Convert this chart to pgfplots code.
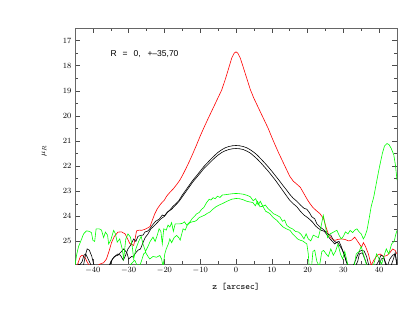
\documentclass[border=0pt]{standalone}
\usepackage{pgfplots}
\pgfplotsset{compat=1.18}
\usepackage{fontspec}
\newfontfamily\hfont{Liberation Sans}
\begin{document}
\begin{tikzpicture}
\useasboundingbox (-75pt,-52pt) rectangle (334pt,264pt);
\begin{axis}[
 at={(0,0)}, anchor=south west,
 scale only axis, width=322pt, height=236pt,
 xmin=-45, xmax=45, ymin=16.5, ymax=25.9, y dir=reverse,
 xtick={-40,-30,...,40}, minor x tick num=1,
 ytick={17,...,25}, minor y tick num=1,
 tick align=inside, major tick length=5pt, minor tick length=3pt,
 ticklabel style={font=\footnotesize},
 axis line style={black!60, line width=0.8pt},
 every tick/.style={black!70, line width=0.5pt},
 xlabel={z [arcsec]}, ylabel={$\mu_R$},
 xlabel style={font=\ttfamily\fontsize{9}{10}\selectfont, at={(axis description cs:0.5,-0.096)}, anchor=center},
 ylabel style={font=\footnotesize, at={(axis description cs:-0.096,0.48)}, anchor=center},
 clip=true,
]
\addplot[red, line width=0.6pt] table {
-45 26.3
-44.5 26.0
-44 25.8
-43.5 25.6
-43 25.55
-42.5 25.6
-42 25.7
-41.5 25.85
-41 25.95
-40 26.1
-39 26.0
-38 25.9
-37 25.85
-36.2 25.7
-35.5 25.4
-34.8 25.05
-34 24.8
-33 24.63
-32 24.62
-31 24.7
-30.3 24.9
-29.7 25.08
-28.6 25.16
-28.2 24.9
-27.8 24.58
-27 24.55
-26.4 24.56
-25.5 24.52
-24.5 24.45
-24 24.4
-23.5 24.2
-22.7 23.9
-22 23.7
-21 23.5
-20 23.35
-19.4 23.2
-18.5 23.05
-17.5 22.9
-16.5 22.72
-15.7 22.56
-15 22.38
-14 22.1
-13 21.8
-12 21.48
-11 21.15
-10 20.8
-9 20.48
-8 20.17
-7 19.87
-6 19.57
-5 19.27
-4 18.97
-3 18.55
-2 18.08
-1.2 17.7
-0.5 17.5
0 17.45
0.5 17.5
1.2 17.7
2 18.05
3 18.5
4 18.95
5 19.3
6 19.6
7 19.9
8 20.2
9 20.5
10 20.85
11 21.18
12 21.5
13 21.8
14 22.1
15 22.4
16 22.6
17 22.72
18 22.85
19 23.1
20 23.35
20.7 23.5
21.5 23.65
22.5 23.78
23.5 23.9
24.5 24.1
25.2 24.45
25.8 24.7
26.5 24.85
27.6 24.96
28.5 24.92
29.5 24.9
30.4 24.92
31.5 24.98
32.3 24.95
33.2 24.83
34 25.0
35.1 25.23
35.6 25.05
36.2 25.2
37 25.5
37.8 25.95
38.5 25.75
39.5 25.55
40.3 25.5
41.2 25.6
42.2 25.56
43 25.45
43.8 25.3
44.5 25.36
45 25.5
};
\addplot[black, line width=0.6pt] table {
-45 26.1
-44 25.9
-43.5 25.95
-42.7 26.0
-42 25.5
-41.6 25.3
-41 25.35
-40.3 25.6
-39.8 25.9
-39 26.1
-37 26.2
-35.5 26.0
-34.5 25.7
-33.5 25.55
-33 25.5
-32.3 25.55
-31.5 25.75
-31 25.6
-30.2 25.3
-29.5 25.16
-28.6 24.9
-28 25.0
-27.4 24.8
-26.7 24.76
-26 24.75
-25.4 24.62
-24.8 24.6
-24.2 24.52
-23.4 24.36
-22.5 24.2
-21.5 24.12
-20.6 23.95
-20 23.98
-19.3 23.85
-18.5 23.75
-17.6 23.6
-16.8 23.5
-16 23.38
-15 23.15
-14 22.95
-13 22.75
-12 22.55
-11 22.38
-10 22.2
-9 22.02
-8 21.87
-7 21.72
-6 21.58
-5 21.45
-4 21.35
-3 21.27
-2 21.22
-1 21.19
0 21.18
1 21.19
2 21.22
3 21.27
4 21.35
5 21.45
6 21.57
7 21.72
8 21.87
9 22.03
10 22.2
11 22.38
12 22.56
13 22.75
14 22.93
15 23.12
16 23.28
17 23.4
18 23.55
19 23.68
19.8 23.72
20.5 23.85
21.2 24.02
22 24.1
22.6 24.3
23.5 24.43
24.2 24.5
25 24.6
25.8 24.72
26.5 24.75
27.2 24.95
28 25.05
28.8 25.0
29.5 25.23
30.4 25.6
31.3 26.0
32 26.1
33 25.9
33.8 25.6
34.5 25.4
35.1 25.36
35.8 25.38
36.5 25.6
37.2 26.0
38 26.1
39 26.0
39.8 25.8
40.5 25.55
41.2 25.6
41.7 25.8
42.3 26.0
43 25.7
43.8 25.55
44.5 25.5
45 26.0
};
\addplot[black, line width=0.6pt] table {
-45 26.2
-44 26.0
-43 25.8
-42.5 25.55
-42 25.5
-41 25.8
-40 26.1
-37 26.2
-35.5 26.0
-35 25.8
-34 25.6
-33 25.55
-32 25.4
-31.4 25.3
-30.5 25.45
-30 25.7
-29.2 25.6
-28.8 25.62
-28 25.45
-27.4 25.35
-26.7 25.3
-26 25.05
-25.4 24.85
-24.6 24.7
-23.8 24.5
-23 24.4
-22 24.25
-21 24.1
-20 24.0
-19 23.82
-18 23.72
-17 23.57
-16 23.42
-15 23.22
-14 23.02
-13 22.82
-12 22.62
-11 22.45
-10 22.28
-9 22.1
-8 21.96
-7 21.82
-6 21.68
-5 21.56
-4 21.46
-3 21.39
-2 21.34
-1 21.31
0 21.3
1 21.31
2 21.34
3 21.4
4 21.48
5 21.6
6 21.73
7 21.88
8 22.04
9 22.2
10 22.38
11 22.56
12 22.76
13 22.96
14 23.16
15 23.36
16 23.5
17 23.62
18 23.8
19 23.95
20 24.05
20.8 24.15
21.5 24.25
22.2 24.38
23 24.48
23.9 24.56
24.7 24.6
25.5 24.75
26.3 24.9
27.6 25.1
28.3 25.02
29.5 25.28
30.2 25.5
30.8 25.8
31.5 26.0
33 26.1
34 25.8
34.5 25.5
35.3 25.45
36 25.7
36.8 26.0
38 26.1
40 26.0
40.6 25.7
41.3 25.65
42 26.0
43 26.1
44 25.7
44.5 25.45
45 25.9
};
\addplot[green, line width=0.6pt] table {
-45 25.95
-44.5 25.5
-44 25.2
-43.5 25.03
-42.6 24.7
-41.8 24.58
-41 24.6
-40.4 24.65
-40 24.96
-39.5 25.0
-39.1 24.5
-38.2 24.5
-37.6 24.55
-37 24.85
-36.5 24.63
-35.9 24.75
-35.6 25.1
-35 24.95
-34.2 24.56
-33.7 24.7
-33.2 25.03
-32.5 24.9
-31.8 25.3
-31.4 25.7
-30.8 24.9
-30.2 24.7
-29.5 24.83
-29 25.2
-28.6 25.7
-28 25.3
-27.2 25.0
-26.5 24.8
-26 25.1
-25.3 25.4
-24.6 25.2
-24 25.0
-23.2 24.83
-22.6 25.0
-22 24.75
-21.5 24.5
-21 24.6
-20.6 25.1
-20.2 24.5
-19.5 24.55
-19 24.35
-18.5 24.43
-18 24.25
-17.5 24.6
-17 24.3
-16.4 24.3
-15.7 24.3
-15 24.28
-14.4 24.22
-13.8 24.35
-12.9 24.23
-12.3 24.1
-11.6 24.0
-11 23.9
-10.3 23.85
-9.6 23.72
-9 23.65
-8.2 23.45
-7.5 23.32
-7 23.35
-6.4 23.26
-5.8 23.3
-5.2 23.2
-4.5 23.25
-3.8 23.15
-3 23.14
-2 23.12
-1 23.1
0 23.09
1 23.1
2 23.12
3 23.16
4 23.22
4.8 23.38
5.5 23.3
6.2 23.55
6.8 23.4
7.5 23.6
8.2 23.55
9 23.7
9.8 23.8
10.5 23.9
11.3 23.95
12.3 24.03
13 24.2
13.6 24.15
14.2 24.36
15 24.45
15.8 24.5
16.6 24.6
17.5 24.63
18.2 24.72
19 24.9
19.6 24.7
20.2 24.9
20.9 24.98
21.6 24.75
22.3 24.8
23 24.85
23.7 24.45
24.4 23.96
25 24.4
25.6 24.85
26.3 24.7
27 24.65
27.6 24.6
28.2 24.56
28.8 24.75
29.4 24.9
30 24.8
30.6 24.62
31.3 24.7
31.9 24.56
32.6 24.65
33.2 24.55
33.8 24.5
34.4 24.62
35 24.7
35.6 24.9
36 24.8
36.6 24.56
37.2 24.1
37.8 23.6
38.5 23.23
39.2 22.7
39.8 22.25
40.3 21.9
40.9 21.5
41.5 21.2
42.2 21.1
42.8 21.15
43.4 21.3
44.1 21.55
44.6 22.0
45 22.56
};
\addplot[green, line width=0.6pt] table {
-45 26.2
-40 26.3
-35 26.2
-32 26.1
-30 26.0
-28.3 25.75
-27.5 26.0
-26.7 25.9
-25.8 25.5
-25.3 25.43
-24.6 25.6
-24.1 25.7
-23.2 25.6
-22.2 25.63
-21.3 25.56
-20.8 25.7
-20.4 26.0
-19.9 25.5
-19.5 25.3
-18.9 25.1
-18.5 24.9
-18 25.05
-17.3 24.85
-16.6 24.76
-16 24.85
-15.6 24.95
-14.8 24.5
-14.2 24.55
-13.6 24.35
-12.9 24.25
-12.2 24.22
-11.5 24.2
-11 24.16
-10.3 24.05
-9.5 24.0
-8.7 23.95
-8 23.88
-7.3 23.83
-6.5 23.72
-5.6 23.62
-4.7 23.55
-3.6 23.48
-2.5 23.4
-1.2 23.32
0 23.29
1 23.3
2 23.34
3 23.4
3.9 23.43
4.7 23.45
5.4 23.58
6 23.4
6.7 23.62
7.5 23.6
8.3 23.8
9 23.85
9.5 23.9
10.4 24.05
11.4 24.16
12.3 24.3
13.2 24.43
14.1 24.5
15.1 24.56
15.8 24.7
16.4 24.78
17.2 24.9
17.9 24.95
18.6 24.98
19.3 25.05
19.8 25.1
20.2 25.5
20.5 26.1
21 26.2
21.5 25.4
22 25.35
22.6 25.8
23.3 26.0
24 25.4
24.5 25.36
25.2 25.5
25.8 25.6
26.5 25.3
27.2 25.55
27.8 25.4
28.5 25.1
29.2 25.5
29.8 25.7
30.4 25.4
31.2 25.9
32 26.2
33 26.0
33.6 25.5
34.4 25.4
35 25.2
35.8 25.6
36.4 25.9
37.2 26.1
38.5 25.9
39.3 25.5
40 25.7
40.7 25.9
41.3 25.6
42 25.3
42.7 25.5
43.5 25.1
44.2 25.0
44.7 24.7
45 24.56
};
\node[anchor=west, inner sep=0pt, font=\hfont\fontsize{8.5}{10}\selectfont] at (axis cs:-35.1,17.52) {R\hspace{0.7em}=\hspace{0.7em}0,\hspace{0.8em}+–35,70};
\end{axis}
\end{tikzpicture}
\end{document}
